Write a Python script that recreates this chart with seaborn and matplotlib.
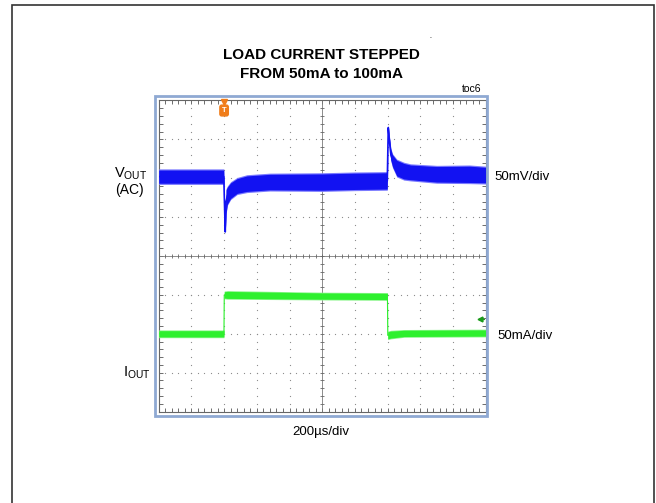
import matplotlib
matplotlib.use("Agg")
import matplotlib.pyplot as plt
import numpy as np
import pandas as pd
import seaborn as sns
from matplotlib.patches import Rectangle

# --------------------
# trace data, in scope divisions (x: 0..10, y: -4..4, centre = 0)
# --------------------
vout_t = [0.0, 1.99, 2.01, 2.035, 2.06, 2.1, 2.2, 2.4, 2.7, 3.4, 5.0, 6.0, 6.99,
          7.005, 7.02, 7.05, 7.1, 7.15, 7.28, 7.5, 7.7, 8.5, 9.5, 10.0]
vout_mid = [2.04, 2.04, 1.4, 0.62, 1.4, 1.55, 1.68, 1.8, 1.86, 1.9, 1.9, 1.92, 1.93,
            2.6, 3.3, 3.0, 2.6, 2.45, 2.26, 2.18, 2.15, 2.1, 2.1, 2.08]
vout_half = [0.17, 0.17, 0.08, 0.04, 0.3, 0.22, 0.2, 0.19, 0.2, 0.2, 0.21, 0.21, 0.21,
             0.05, 0.06, 0.1, 0.14, 0.15, 0.2, 0.2, 0.19, 0.2, 0.21, 0.2]

iout_t = [0.0, 1.995, 2.005, 2.1, 5.0, 6.995, 7.005, 7.1, 7.5, 10.0]
iout_mid = [-2.0, -2.0, -1.0, -1.0, -1.03, -1.04, -2.04, -2.02, -1.99, -1.98]
iout_half = [0.08, 0.08, 0.08, 0.09, 0.08, 0.08, 0.09, 0.09, 0.08, 0.08]

trigger_div = 2.0
iout_marker = (9.83, -1.61)

W, H = 656, 503
BLUE = "#1212f2"
GREEN = "#2ef02e"
ORANGE = "#f07d1a"

sns.set_style("white")
plt.rcParams["font.family"] = ["Liberation Sans", "DejaVu Sans"]
plt.rcParams["mathtext.fontset"] = "custom"
plt.rcParams["mathtext.rm"] = "Liberation Sans"
plt.rcParams["text.color"] = "black"


def px(x, y):
    return x / W, 1 - y / H


fig = plt.figure(figsize=(W / 100, H / 100), dpi=100)
l, b = px(158.7, 411.6)
ax = fig.add_axes([l, b, 327 / W, 311.2 / H])
ax.set_xlim(0, 10)
ax.set_ylim(-4, 4)

# dotted graticule
minor = np.round(np.arange(0, 10.01, 0.2), 2)
minor_y = np.round(np.arange(-4, 4.01, 0.2), 2)
for k in range(1, 10):
    if k != 5:
        ax.scatter(np.full(len(minor_y), k), minor_y, s=0.8, color="#8a8a8a", lw=0, zorder=1)
for k in [-3, -2, -1, 1, 2, 3]:
    ax.scatter(minor, np.full(len(minor), k), s=0.8, color="#8a8a8a", lw=0, zorder=1)

# centre cross with small ticks
ax.axhline(0, color="#7a7a7a", lw=0.6, zorder=1)
ax.axvline(5, color="#7a7a7a", lw=0.6, zorder=1)
ax.scatter(minor, np.zeros(len(minor)), marker="|", s=12, color="#666666", lw=0.6, zorder=1)
ax.scatter(np.full(len(minor_y), 5), minor_y, marker="_", s=12, color="#666666", lw=0.6, zorder=1)

# edge ticks
ax.set_xticks(np.arange(0, 11, 1))
ax.set_yticks(np.arange(-4, 5, 1))
ax.set_xticks(minor, minor=True)
ax.set_yticks(minor_y, minor=True)
ax.tick_params(which="both", direction="in", length=3, width=0.6, color="#555555",
               top=True, right=True, bottom=True, left=True,
               labelbottom=False, labelleft=False)
for s in ax.spines.values():
    s.set_color("#666666")
    s.set_linewidth(0.8)

# traces
vdf = pd.DataFrame({"t": vout_t, "v": vout_mid, "h": vout_half})
idf = pd.DataFrame({"t": iout_t, "v": iout_mid, "h": iout_half})

ax.fill_between(vdf.t, vdf.v - vdf.h - 0.03, vdf.v + vdf.h + 0.03, color="#7a7aff", lw=0, zorder=3)
ax.fill_between(vdf.t, vdf.v - vdf.h, vdf.v + vdf.h, color=BLUE, lw=0, zorder=3)
sns.lineplot(data=vdf, x="t", y="v", color=BLUE, lw=1.2, estimator=None, ax=ax, zorder=4)

ax.fill_between(idf.t, idf.v - idf.h - 0.02, idf.v + idf.h + 0.02, color="#8cf58c", lw=0, zorder=3)
ax.fill_between(idf.t, idf.v - idf.h, idf.v + idf.h, color=GREEN, lw=0, zorder=3)
sns.lineplot(data=idf, x="t", y="v", color=GREEN, lw=0.8, estimator=None, ax=ax, zorder=4)
ax.set_xlabel("")
ax.set_ylabel("")

# trigger marker and channel marker
ax.plot([trigger_div], [3.97], marker="v", ms=4.5, color=ORANGE, clip_on=False, zorder=5)
ax.text(trigger_div, 3.74, "T", ha="center", va="center", fontsize=5.5, fontweight="bold",
        color="white", zorder=6,
        bbox=dict(boxstyle="round,pad=0.25", fc=ORANGE, ec=ORANGE))
ax.plot([iout_marker[0], iout_marker[0] + 0.12], [iout_marker[1]] * 2, color="#1a9a1a", lw=0.9, zorder=5)
ax.plot([iout_marker[0]], [iout_marker[1]], marker="<", ms=3.5, color="#1a9a1a", zorder=5)

# outer frame of the scope screen
x0, y0 = px(155.2, 415.8)
fig.patches.append(Rectangle((x0, y0), 331.8 / W, 319.5 / H, transform=fig.transFigure,
                             fill=False, ec="#8fa9d3", lw=2.0, zorder=5))
# page border
bx, by = px(12, 510)
fig.patches.append(Rectangle((bx, by), 642 / W, 505 / H, transform=fig.transFigure,
                             fill=False, ec="#333333", lw=1.2, zorder=5))

# texts
fig.text(*px(321, 55), "LOAD CURRENT STEPPED", ha="center", va="center",
         fontsize=11, fontweight="bold")
fig.text(*px(321, 74), "FROM 50mA to 100mA", ha="center", va="center",
         fontsize=11, fontweight="bold")
fig.text(*px(481, 89), "toc6", ha="right", va="center", fontsize=7.5)
fig.text(*px(431, 41), "\u00b4", ha="center", va="center", fontsize=5)
fig.text(*px(131, 174), r"V$_{\mathregular{OUT}}$", ha="center", va="center", fontsize=10.5)
fig.text(*px(129, 190), "(AC)", ha="center", va="center", fontsize=10)
fig.text(*px(137, 373), r"I$_{\mathregular{OUT}}$", ha="center", va="center", fontsize=10.5)
fig.text(*px(494, 177), "50mV/div", ha="left", va="center", fontsize=9.5)
fig.text(*px(497, 336), "50mA/div", ha="left", va="center", fontsize=9.5)
fig.text(*px(321, 432), "200\u00b5s/div", ha="center", va="center", fontsize=9.5)

fig.savefig("out.png", dpi=100)
